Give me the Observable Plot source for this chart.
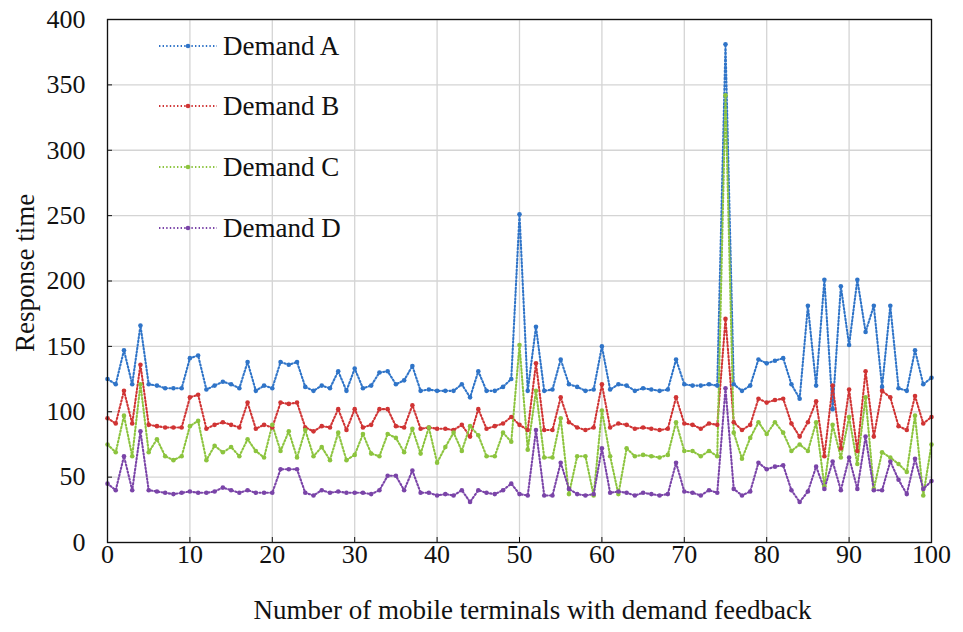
<!DOCTYPE html>
<html>
<head>
<meta charset="utf-8">
<script src="https://cdn.jsdelivr.net/npm/d3@7"></script>
<script src="https://cdn.jsdelivr.net/npm/@observablehq/plot@0.6"></script>
<style>
  html, body { margin: 0; padding: 0; background: #fff; }
  #wrap { position: relative; width: 963px; height: 632px; font-family: "Liberation Serif", "Times New Roman", serif; }
  #legend { position: absolute; left: 158px; top: 0; }
  .row { position: absolute; left: 0; display: flex; align-items: center; white-space: nowrap; font-size: 27px; color: #111; }
  .row svg { margin-right: 5px; }
</style>
</head>
<body>
<div id="wrap"><div id="legend"></div></div>
<script>
const seriesNames = ["Demand A", "Demand B", "Demand C", "Demand D"];
const seriesColors = ["#2f74c8", "#d03434", "#8cc43e", "#7a44a8"];
const xTicks = [0, 10, 20, 30, 40, 50, 60, 70, 80, 90, 100];
const yTicks = [0, 50, 100, 150, 200, 250, 300, 350, 400];
const xLabel = "Number of mobile terminals with demand feedback";
const yLabel = "Response time";

const demandA = [125,121,147,121,166,121,120,118,118,118,141,143,117,120,123,121,118,138,116,120,118,138,136,138,119,116,120,118,131,116,133,118,120,130,131,121,124,135,116,117,116,116,116,121,111,131,116,116,119,125,251,116,165,116,117,140,121,119,116,117,150,117,121,120,116,118,117,116,117,140,121,120,120,121,120,381,121,116,120,140,137,139,141,121,110,181,120,201,102,196,151,201,161,181,119,181,118,116,147,121,126];
const demandB = [95,91,116,91,136,90,89,88,88,88,111,113,87,90,92,90,88,107,87,90,88,107,106,107,88,85,89,88,102,86,102,88,90,102,102,89,88,105,87,88,87,87,86,90,81,102,87,89,91,96,90,86,137,86,86,111,92,88,86,88,121,88,91,90,87,88,87,86,87,111,91,90,87,91,90,171,92,86,90,110,107,109,110,91,81,92,108,66,120,72,117,70,131,81,116,111,89,86,112,91,96];
const demandC = [75,69,97,66,121,69,79,66,63,66,89,93,63,74,69,73,66,79,70,65,90,70,85,65,86,66,73,63,84,63,67,83,68,66,83,80,69,87,68,88,61,73,84,70,89,82,66,66,84,77,151,71,116,65,65,95,37,66,66,36,101,66,37,72,66,67,66,65,67,92,70,70,66,70,66,342,84,64,80,92,83,92,84,70,75,70,92,43,90,65,96,60,111,41,69,65,60,54,97,36,75];
const demandD = [45,40,66,40,85,40,39,38,37,38,39,38,38,39,42,40,38,40,38,38,38,56,56,56,38,36,40,38,39,38,38,38,37,40,51,51,40,55,38,38,36,37,36,40,31,40,38,37,40,45,37,36,86,36,36,61,41,37,36,37,72,38,39,38,36,38,37,36,37,61,39,38,36,40,38,118,41,36,39,61,56,58,59,40,31,39,58,41,62,40,65,41,81,40,40,62,48,37,64,41,47];

const seriesValues = [demandA, demandB, demandC, demandD];
const data = [];
seriesValues.forEach((vals, s) => vals.forEach((v, i) => data.push({series: seriesNames[s], x: i, y: v})));

const font = "Liberation Serif, Times New Roman, serif";

const chart = Plot.plot({
  width: 963,
  height: 632,
  marginLeft: 107,
  marginRight: 32,
  marginTop: 19,
  marginBottom: 90,
  style: {fontFamily: font, fontSize: "26px", background: "transparent", color: "#111"},
  x: {domain: [0, 100]},
  y: {domain: [0, 400]},
  color: {domain: seriesNames, range: seriesColors},
  marks: [
    Plot.gridX(xTicks, {stroke: "#d4d4d4", strokeOpacity: 1, strokeWidth: 1.3}),
    Plot.gridY(yTicks, {stroke: "#d4d4d4", strokeOpacity: 1, strokeWidth: 1.3}),
    Plot.line(data, {x: "x", y: "y", z: "series", stroke: "series", strokeWidth: 2.1, strokeDasharray: "1.4 2.2", curve: "linear"}),
    Plot.dot(data, {x: "x", y: "y", fill: "series", r: 2.3}),
    Plot.frame({stroke: "#111", strokeWidth: 1.3}),
    Plot.axisX(xTicks, {tickSize: -5, tickFormat: () => "", label: null, stroke: "#111"}),
    Plot.axisY(yTicks, {tickSize: -5, tickFormat: () => "", label: null, stroke: "#111"}),
    Plot.axisX(xTicks, {tickSize: 0, tickPadding: 2, label: null, fontSize: 26}),
    Plot.axisY(yTicks, {tickSize: 0, tickPadding: 22, label: null, fontSize: 26}),
    Plot.text([xLabel], {frameAnchor: "bottom", dx: 13, dy: 68, fontSize: 27, textAnchor: "middle", lineAnchor: "middle", fill: "#111"}),
    Plot.text([yLabel], {frameAnchor: "left", dx: -82, dy: -8, rotate: -90, fontSize: 27, textAnchor: "middle", lineAnchor: "middle", fill: "#111"})
  ]
});
document.getElementById("wrap").prepend(chart);

const legend = document.getElementById("legend");
const rowTops = [46, 106, 167, 228];
seriesNames.forEach((name, i) => {
  const row = document.createElement("div");
  row.className = "row";
  row.style.top = (rowTops[i] - 16) + "px";
  row.style.height = "32px";
  const c = seriesColors[i];
  row.innerHTML = `<svg width="60" height="10"><line x1="1" y1="5" x2="59" y2="5" stroke="${c}" stroke-width="2.1" stroke-dasharray="1.4 2.2"/><circle cx="30" cy="5" r="2.3" fill="${c}"/></svg><span>${name}</span>`;
  legend.appendChild(row);
});
</script>
</body>
</html>
